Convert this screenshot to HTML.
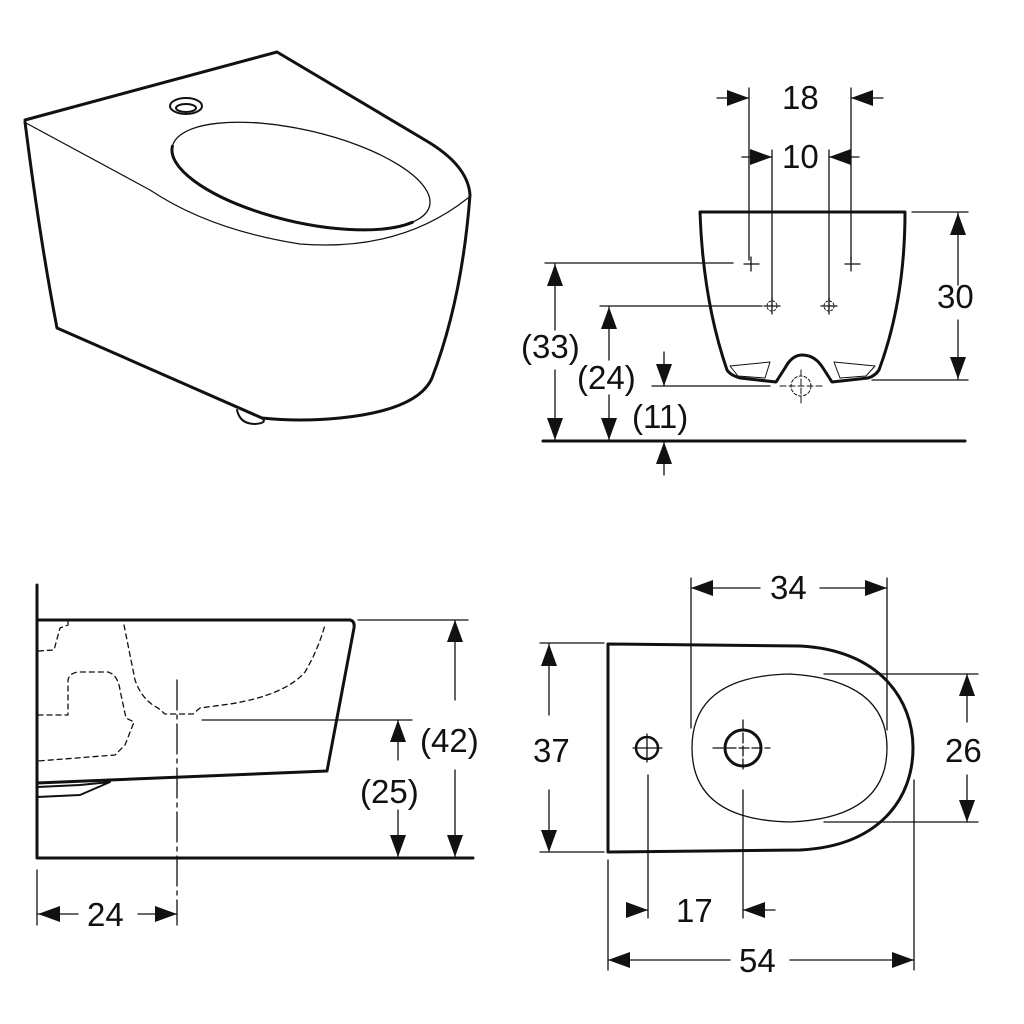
<!DOCTYPE html>
<html><head><meta charset="utf-8"><style>
html,body{margin:0;padding:0;background:#fff}
svg{display:block}
text{font-family:"Liberation Sans",sans-serif;font-size:33px;fill:#111}
</style></head><body>
<svg width="1024" height="1024" viewBox="0 0 1024 1024" xmlns="http://www.w3.org/2000/svg">
<defs>
<marker id="a" viewBox="0 0 22 16" refX="22" refY="8" markerWidth="22" markerHeight="16" markerUnits="userSpaceOnUse" orient="auto"><path d="M0,0 L22,8 L0,16 z" fill="#111"/></marker>
</defs>
<g fill="none" stroke="#111" stroke-linecap="round" stroke-linejoin="round">
<!-- 3D view -->
<path d="M25,120 L277,52 L425,140 Q468,165 470,195 Q462,300 432,378 Q418,410 340,418 Q300,422 262,418 L57,328 Q40,240 25,122" stroke-width="3"/>
<path d="M26,123 L150,190 Q210,230 300,244 Q400,252 468,198" stroke-width="1.2"/>
<g transform="rotate(13 301 176)">
<ellipse cx="301" cy="176" rx="132" ry="46" stroke-width="1.3"/>
<path d="M169,176 A132,46 0 0 0 420,196" stroke-width="3"/>
</g>
<ellipse cx="186" cy="106" rx="16" ry="8" stroke-width="2"/>
<ellipse cx="186" cy="108" rx="10" ry="4" stroke-width="2"/>
<path d="M237,410 Q240,424 255,424 Q268,423 262,418" stroke-width="2"/>

<!-- front view -->
<path d="M700,212 L905,212 Q905,300 879,370 Q875,376 868,378 L832,382 L823,368 Q815,355 802,355 Q792,355 785,368 L776,382 L740,378 Q730,375 727,370 Q703,300 700,212 Z" stroke-width="3"/>
<path d="M730,366 L770,362 L765,378 L738,376 Z M875,366 L834,362 L840,378 L866,376 Z" stroke-width="1"/>
<path d="M744,264 H759 M751,257 V271 M845,264 H860 M851,257 V271" stroke-width="1.3"/>
<circle cx="772" cy="306" r="5" stroke-width="1" stroke-dasharray="2,2"/><path d="M764,306 H780 M772,298 V314" stroke-width="1.3"/>
<circle cx="829" cy="306" r="5" stroke-width="1" stroke-dasharray="2,2"/><path d="M821,306 H837 M829,298 V314" stroke-width="1.3"/>
<circle cx="801" cy="386" r="10" stroke-width="1" stroke-dasharray="3,2"/><path d="M780,386 H822 M801,370 V405" stroke-width="1" stroke-dasharray="6,3"/>
<path d="M749,88 V260 M851,88 V260 M772,150 V300 M829,150 V300" stroke-width="1.3"/>
<path d="M912,212 H968 M872,380 H968" stroke-width="1.3"/>
<path d="M545,263 H733 M600,306 H762 M652,386 H770" stroke-width="1.3"/>
<path d="M543,441 H965" stroke-width="3"/>
<g stroke-width="1.3" marker-end="url(#a)">
<path d="M717,98 H749"/><path d="M883,98 H851"/>
<path d="M742,157 H772"/><path d="M859,157 H829"/>
<path d="M958,285 V213"/><path d="M958,320 V379"/>
<path d="M555,330 V264"/><path d="M555,370 V440"/>
<path d="M609,360 V307"/><path d="M609,395 V440"/>
<path d="M664,352 V386"/><path d="M664,475 V442"/>
</g>

<!-- side view -->
<path d="M37,585 V858 M37,858 H473" stroke-width="3"/>
<path d="M37,620 H350 Q355,621 354,628 L327,771 L37,783" stroke-width="3"/>
<path d="M37,787 L80,785 L110,782 M37,797 L80,795 L110,782" stroke-width="2"/>
<g stroke-width="1.3" stroke-dasharray="5,4">
<path d="M68,622 V625 L60,628 L54,650 L38,651"/>
<path d="M38,715 H68 V680 Q70,672 80,672 H108 Q118,675 120,690 L126,718 L134,722 L125,745 L115,755 L38,761"/>
<path d="M124,625 L135,680 Q142,700 158,708 L165,714 L193,714 L200,708 L230,704 Q285,695 305,672 Q318,650 325,625"/>
</g>
<path d="M177,680 V925" stroke-width="1.3" stroke-dasharray="30,5,4,5"/>
<path d="M202,720 H412 M358,620 H468" stroke-width="1.3"/>
<path d="M37,870 V925" stroke-width="1.3"/>
<g stroke-width="1.3" marker-end="url(#a)">
<path d="M398,760 V720"/><path d="M398,810 V857"/>
<path d="M455,700 V620"/><path d="M455,770 V857"/>
<path d="M78,914 H38"/><path d="M138,914 H177"/>
</g>

<!-- plan view -->
<path d="M608,644 L800,646 C880,650 913,700 913,748 C913,798 880,846 800,850 L608,852 Z" stroke-width="3"/>
<path d="M692,748 Q692,676 790,674 Q887,680 887,748 Q887,818 790,822 Q692,820 692,748 Z" stroke-width="1.3"/>
<circle cx="647" cy="748" r="11" stroke-width="2.5"/><path d="M633,748 H662 M647,734 V762" stroke-width="1.3"/>
<circle cx="743" cy="748" r="18" stroke-width="3"/><path d="M713,748 H770 M743,720 V770" stroke-width="1.3" stroke-dasharray="10,3"/>
<path d="M691,578 V728 M887,578 V730" stroke-width="1.3"/>
<path d="M824,674 H978 M824,822 H978" stroke-width="1.3"/>
<path d="M540,643 H604 M540,852 H604" stroke-width="1.3"/>
<path d="M608,860 V970 M914,780 V970 M648,775 V918 M743,790 V918" stroke-width="1.3"/>
<g stroke-width="1.3" marker-end="url(#a)">
<path d="M760,588 H691"/><path d="M820,588 H887"/>
<path d="M549,715 V644"/><path d="M549,790 V852"/>
<path d="M967,722 V674"/><path d="M967,775 V822"/>
<path d="M627,910 H648"/><path d="M775,910 H743"/>
<path d="M730,960 H608"/><path d="M790,960 H914"/>
</g>
</g>
<text x="782" y="109">18</text>
<text x="782" y="168">10</text>
<text x="937" y="308">30</text>
<text x="521" y="358">(33)</text>
<text x="577" y="389">(24)</text>
<text x="632" y="428">(11)</text>
<text x="87" y="926">24</text>
<text x="360" y="803">(25)</text>
<text x="420" y="752">(42)</text>
<text x="770" y="599">34</text>
<text x="533" y="762">37</text>
<text x="945" y="762">26</text>
<text x="676" y="922">17</text>
<text x="739" y="972">54</text>
</svg>
</body></html>
